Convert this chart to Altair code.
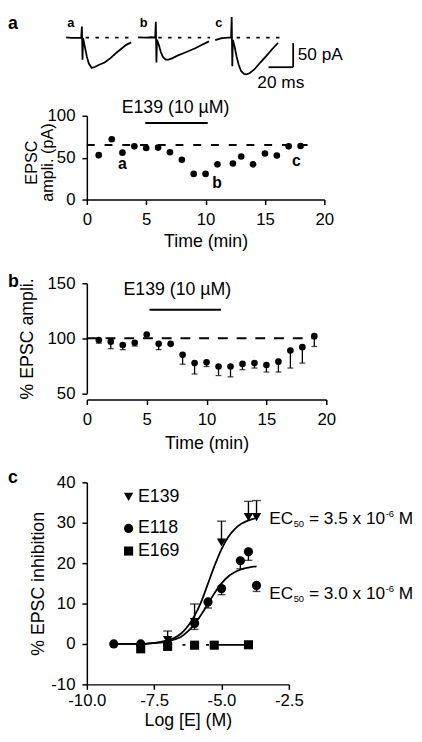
import altair as alt
import pandas as pd

FONT = "Liberation Sans"
INK = "#000000"

# ================= DATA =================
# --- Panel a (top): example EPSC sweeps; ms after stimulus, pA relative to baseline ---
sweep_names = ["a", "b", "c"]
sweep_a_ms = [-12.8, -8.8, -4.0, -0.56, 0, 0.48, 0.96, 2.4, 4.0, 5.6, 8.0, 10.4, 13.6, 18.4, 23.2, 28.0, 32.0, 36.0, 40.0]
sweep_a_pA = [0.4, -0.6, -0.6, 0, 23.0, -45.7, -0.6, -19.1, -39.5, -53.8, -63.0, -61.0, -56.9, -51.8, -42.6, -31.4, -23.2, -15.0, -9.8]
sweep_b_ms = [-14.4, -8.0, -3.2, -0.48, 0, 0.48, 0.96, 2.4, 4.0, 5.6, 8.0, 10.4, 13.6, 17.6, 22.4, 27.2, 32.0, 36.8, 43.2]
sweep_b_pA = [0.4, -0.2, 0.8, 0, 33.2, -51.8, -4.7, -15.0, -29.3, -39.5, -45.7, -45.7, -42.6, -37.5, -32.4, -27.3, -22.1, -16.0, -7.8]
sweep_c_ms = [-13.4, -8.0, -2.64, -0.48, 0, 0.48, 0.96, 2.4, 4.0, 5.6, 7.6, 10.0, 12.0, 14.4, 18.4, 23.2, 28.0, 32.8, 37.6]
sweep_c_pA = [-5.3, -1.2, 0, 0, 43.0, -59.4, -4.7, -19.1, -39.5, -55.9, -69.3, -75.5, -76.5, -74.0, -66.2, -51.8, -38.5, -24.2, -10.9]
sweep_baseline_start_ms = [3, 2, 4]
sweep_baseline_end_ms = [40, 44, 43]
scalebar_ms = 20
scalebar_pA = 50

# --- Panel a (bottom): EPSC amplitude time course ---
time_a_min = [1, 2.1, 3, 4, 5, 6, 7, 8, 9, 10, 11, 12.3, 13, 14, 15, 16, 17, 18]
epsc_a_pA = [53, 72, 56, 63.5, 61.5, 62, 56.5, 47.5, 30.6, 30.6, 42, 43, 51.4, 42, 55, 52.5, 63.5, 64]
baseline_a_pA = 65
baseline_a_span = [0, 18.7]
drug_a_span = [4.92, 10.18]
drug_label = "E139 (10 µM)"
sample_labels = ["a", "b", "c"]
sample_label_min = [3.0, 10.97, 17.65]
sample_label_pA = [37, 14, 40.4]

# --- Panel b: normalised EPSC amplitude (mean, one-sided SEM) ---
time_b_min = list(range(1, 20))
pct_b = [98.5, 97, 94, 96, 103.5, 95, 95, 85, 77.5, 78.2, 74.4, 74.4, 76.8, 77.5, 75.8, 78.8, 89, 92, 102]
sem_b = [2.9, 6.4, 4.3, 3.0, 0, 5.3, 1.0, 8.5, 9.9, 3.8, 8.2, 9.4, 5.3, 4.5, 6.4, 9.4, 16.0, 14.5, 9.4]
baseline_b_pct = 100
baseline_b_span = [0, 19.2]
drug_b_span = [5.23, 11.2]

# --- Panel c: concentration-response ---
series_names = ["E139", "E118", "E169"]
log_e139 = [-7, -6, -5, -4, -3.7]
inh_e139 = [1.0, 5.4, 25.1, 31.4, 31.4]
sem_e139 = [2.2, 4.5, 5.3, 3.9, 4.1]
log_e118 = [-9, -8, -7, -6, -5.5, -5, -4.3, -4, -3.7]
inh_e118 = [0, 0, 0, 5.1, 10.4, 13.7, 20.6, 22.8, 14.5]
sem_e118 = [0, 0, 0, 1.5, 1.5, 1.5, 2.0, 2.1, 1.5]
log_e169 = [-8, -7, -6, -5.27, -4]
inh_e169 = [-1.2, -0.6, -0.3, -0.3, -0.2]
fit_log = [-9, -8, -7.5, -7, -6.75, -6.5, -6.25, -6, -5.75, -5.5, -5.25, -5, -4.75, -4.5, -4.25, -4, -3.7]
fit_e139 = [0, 0, 0.3, 0.9, 1.5, 2.6, 4.4, 7.0, 10.5, 15.0, 19.5, 23.5, 26.5, 28.5, 29.8, 30.6, 31.2]
fit_e118 = [0, 0, 0.2, 0.6, 1.1, 1.8, 3.1, 4.9, 7.3, 10.0, 12.7, 15.0, 16.7, 17.8, 18.5, 18.9, 19.2]
fit_e169_dashed = [[-6.45, -5.27], [-0.2, -0.2]]
fit_e169_solid = [[-5.27, -4.0], [-0.2, -0.2]]
ec50_values = ["3.5", "3.0"]

# ================= LAYOUT (positions / sizes) =================
sweep_onset = [-4.0, 56.0, 117.6]          # where each sweep sits on the trace strip (ms)
sweep_label_pos = [-15.8, 43.0, 104.2]
sweep_label_pA = 22.5
scalebar_corner = (167.5, -61.5)
ec50_anchor = [(-3.23, 29.8), (-3.23, 11.2)]
legend_sym_x, legend_txt_x = -8.45, -8.1
legend_y = [36.4, 28.6, 23.0]
LETTER_X = -80

def txt(df, size=17.5, weight="normal", align="left", baseline="alphabetic", dx=0, dy=0):
    return alt.Chart(df).mark_text(font=FONT, fontSize=size, fontWeight=weight, color=INK,
                                   align=align, baseline=baseline, dx=dx, dy=dy)

def letter(ch, y):
    return txt(pd.DataFrame({"s": [ch]}), size=18, weight="bold").encode(
        x=alt.value(LETTER_X), y=alt.value(y), text="s:N")

# ---------------- trace strip ----------------
rows = []
for name, onset, ts, ys in zip(sweep_names, sweep_onset,
                               [sweep_a_ms, sweep_b_ms, sweep_c_ms],
                               [sweep_a_pA, sweep_b_pA, sweep_c_pA]):
    for k, (t, v) in enumerate(zip(ts, ys)):
        rows.append({"sweep": name, "k": k, "T": onset + t, "I": v})
sweeps = pd.DataFrame(rows)
base_rows = pd.DataFrame({"T": [o + s for o, s in zip(sweep_onset, sweep_baseline_start_ms)],
                          "T2": [o + e for o, e in zip(sweep_onset, sweep_baseline_end_ms)],
                          "I": [0, 0, 0]})
cx, cy = scalebar_corner
sb = pd.DataFrame({"T": [cx - scalebar_ms, cx], "T2": [cx, cx],
                   "I": [cy, cy], "I2": [cy, cy + scalebar_pA]})
xs_tr = alt.Scale(domain=[0, 192], nice=False, zero=False)
ys_tr = alt.Scale(domain=[-113.3, 46.5], nice=False, zero=False)
XT = alt.X("T:Q", scale=xs_tr, axis=None)
YT = alt.Y("I:Q", scale=ys_tr, axis=None)

trace_panel = alt.layer(
    alt.Chart(base_rows).mark_rule(color=INK, strokeWidth=1.6, strokeDash=[3.5, 6.5]).encode(x=XT, x2="T2:Q", y=YT),
    alt.Chart(sweeps).mark_line(color=INK, strokeWidth=1.8).encode(x=XT, y=YT, detail="sweep:N", order="k:Q"),
    alt.Chart(sb).mark_rule(color=INK, strokeWidth=1.8).encode(x=XT, x2="T2:Q", y=YT, y2="I2:Q"),
    txt(pd.DataFrame({"T": [cx + 3.7], "I": [cy + 14], "s": [f"{scalebar_pA} pA"]})).encode(x=XT, y=YT, text="s:N"),
    txt(pd.DataFrame({"T": [cx - scalebar_ms / 2], "I": [-105], "s": [f"{scalebar_ms} ms"]}), align="center").encode(x=XT, y=YT, text="s:N"),
    txt(pd.DataFrame({"T": sweep_label_pos, "I": [sweep_label_pA] * 3, "s": sweep_names}), size=13, weight="bold").encode(x=XT, y=YT, text="s:N"),
    letter("a", 13.5),
).properties(width=240, height=78)

# ---------------- panel a time course ----------------
xa = alt.Scale(domain=[0, 20], nice=False, zero=False)
ya = alt.Scale(domain=[0, 100], range=[109, 24], nice=False, zero=False)
XA = alt.X("t:Q", scale=xa, axis=alt.Axis(values=[0, 5, 10, 15, 20], title="Time (min)", titleY=34))
YA = alt.Y("v:Q", scale=ya, axis=alt.Axis(values=[0, 50, 100], title=["EPSC", "ampli. (pA)"],
                                          titleX=-48, titleY=71, titleLineHeight=16, titleFontSize=16.5))
panel_a = alt.layer(
    alt.Chart(pd.DataFrame({"t": [baseline_a_span[0]], "t2": [baseline_a_span[1]], "v": [baseline_a_pA]}))
        .mark_rule(color=INK, strokeWidth=2, strokeDash=[8, 10]).encode(x=XA, x2="t2:Q", y=YA),
    alt.Chart(pd.DataFrame({"t": [drug_a_span[0]], "t2": [drug_a_span[1]], "v": [91.4]}))
        .mark_rule(color=INK, strokeWidth=2).encode(x=XA, x2="t2:Q", y=YA),
    alt.Chart(pd.DataFrame({"t": time_a_min, "v": epsc_a_pA}))
        .mark_circle(color=INK, size=45, opacity=1).encode(x=XA, y=YA),
    txt(pd.DataFrame({"t": sample_label_min, "v": sample_label_pA, "s": sample_labels}), size=16, weight="bold",
        align="center").encode(x=XA, y=YA, text="s:N"),
    txt(pd.DataFrame({"t": [7.47], "v": [103.5], "s": [drug_label]}), size=18, align="center").encode(x=XA, y=YA, text="s:N"),
).properties(width=241, height=109)

# ---------------- panel b ----------------
xb = alt.Scale(domain=[0, 20], nice=False, zero=False)
yb = alt.Scale(domain=[50, 150], range=[196.7, 85], nice=False, zero=False)
XB = alt.X("t:Q", scale=xb, axis=alt.Axis(values=[0, 5, 10, 15, 20], title="Time (min)", titleY=36))
YB = alt.Y("v:Q", scale=yb, axis=alt.Axis(values=[50, 100, 150], title="% EPSC ampli.", titleX=-51))
dfb = pd.DataFrame({"t": time_b_min, "v": pct_b, "lo": [p - s for p, s in zip(pct_b, sem_b)], "s": sem_b})
dfb_err = dfb[dfb["s"] > 0]
panel_b = alt.layer(
    alt.Chart(pd.DataFrame({"t": [baseline_b_span[0]], "t2": [baseline_b_span[1]], "v": [baseline_b_pct]}))
        .mark_rule(color=INK, strokeWidth=2, strokeDash=[10, 9]).encode(x=XB, x2="t2:Q", y=YB),
    alt.Chart(pd.DataFrame({"t": [drug_b_span[0]], "t2": [drug_b_span[1]], "v": [126]}))
        .mark_rule(color=INK, strokeWidth=2).encode(x=XB, x2="t2:Q", y=YB),
    alt.Chart(dfb_err).mark_rule(color=INK, strokeWidth=1.3).encode(x=XB, y=YB, y2="lo:Q"),
    alt.Chart(dfb_err.assign(v=dfb_err["lo"])).mark_tick(color=INK, orient="horizontal", size=6, thickness=1.3).encode(x=XB, y=YB),
    alt.Chart(dfb).mark_circle(color=INK, size=45, opacity=1).encode(x=XB, y=YB),
    txt(pd.DataFrame({"t": [7.56], "v": [139], "s": [drug_label]}), size=18, align="center").encode(x=XB, y=YB, text="s:N"),
    letter("b", 89),
).properties(width=243, height=203)

# ---------------- panel c ----------------
xc = alt.Scale(domain=[-10, -2.5], nice=False, zero=False)
yc = alt.Scale(domain=[-10, 40], range=[289, 84], nice=False, zero=False)
XC = alt.X("x:Q", scale=xc, axis=alt.Axis(values=[-10, -7.5, -5, -2.5], title="Log [E] (M)", titleY=28, labelPadding=3,
                                          labelExpr="replace(format(datum.value, '.1f'), '\u2212', '-')"))
YC = alt.Y("y:Q", scale=yc, axis=alt.Axis(values=[-10, 0, 10, 20, 30, 40], title="% EPSC inhibition", titleX=-40,
                                          labelExpr="replace(format(datum.value, 'd'), '\u2212', '-')"))
shape_scale = alt.Scale(domain=series_names, range=["triangle-down", "circle", "square"])
size_scale = alt.Scale(domain=series_names, range=[90, 85, 75])
pts = pd.concat([
    pd.DataFrame({"x": log_e139, "y": inh_e139, "g": "E139"}),
    pd.DataFrame({"x": log_e118, "y": inh_e118, "g": "E118"}),
    pd.DataFrame({"x": log_e169, "y": inh_e169, "g": "E169"}),
])
err139 = pd.DataFrame({"x": log_e139, "y": inh_e139, "y2": [a + b for a, b in zip(inh_e139, sem_e139)]})
err118 = pd.DataFrame({"x": log_e118, "y": inh_e118, "y2": [a - b for a, b in zip(inh_e118, sem_e118)], "s": sem_e118})
err118 = err118[err118["s"] > 0]
fits = pd.concat([
    pd.DataFrame({"x": fit_log, "y": fit_e139, "g": "E139"}),
    pd.DataFrame({"x": fit_log, "y": fit_e118, "g": "E118"}),
])
leg_sym = pd.DataFrame({"x": [legend_sym_x] * 3, "y": legend_y, "g": series_names})
leg_txt = pd.DataFrame({"x": [legend_txt_x] * 3, "y": legend_y, "g": series_names})
ec = pd.DataFrame({"x": [a[0] for a in ec50_anchor], "y": [a[1] for a in ec50_anchor],
                   "p1": ["EC", "EC"], "p2": ["50", "50"], "p3": [f"= {v} x 10" for v in ec50_values],
                   "p4": ["-6", "-6"], "p5": ["M", "M"]})
shape_enc = alt.Shape("g:N", scale=shape_scale, legend=None)
size_enc = alt.Size("g:N", scale=size_scale, legend=None)
panel_c = alt.layer(
    alt.Chart(fits).mark_line(color=INK, strokeWidth=1.8, interpolate="monotone").encode(x=XC, y=YC, detail="g:N"),
    alt.Chart(pd.DataFrame({"x": fit_e169_dashed[0], "y": fit_e169_dashed[1]}))
        .mark_line(color=INK, strokeWidth=1.8, strokeDash=[3, 9]).encode(x=XC, y=YC),
    alt.Chart(pd.DataFrame({"x": fit_e169_solid[0], "y": fit_e169_solid[1]}))
        .mark_line(color=INK, strokeWidth=1.8).encode(x=XC, y=YC),
    alt.Chart(err139).mark_rule(color=INK, strokeWidth=1.4).encode(x=XC, y=YC, y2="y2:Q"),
    alt.Chart(err139.assign(y=err139["y2"])).mark_tick(color=INK, orient="horizontal", size=9, thickness=1.4).encode(x=XC, y=YC),
    alt.Chart(err118).mark_rule(color=INK, strokeWidth=1.4).encode(x=XC, y=YC, y2="y2:Q"),
    alt.Chart(err118.assign(y=err118["y2"])).mark_tick(color=INK, orient="horizontal", size=8, thickness=1.4).encode(x=XC, y=YC),
    alt.Chart(pts).mark_point(filled=True, color=INK, opacity=1).encode(x=XC, y=YC, shape=shape_enc, size=size_enc),
    alt.Chart(leg_sym).mark_point(filled=True, color=INK, opacity=1).encode(x=XC, y=YC, shape=shape_enc, size=size_enc),
    txt(leg_txt, size=18, baseline="middle").encode(x=XC, y=YC, text="g:N"),
    txt(ec).encode(x=XC, y=YC, text="p1:N"),
    txt(ec, size=9.5, dx=24.8, dy=3.5).encode(x=XC, y=YC, text="p2:N"),
    txt(ec, dx=40.3).encode(x=XC, y=YC, text="p3:N"),
    txt(ec, size=9.5, dx=118.2, dy=-7).encode(x=XC, y=YC, text="p4:N"),
    txt(ec, dx=131.5).encode(x=XC, y=YC, text="p5:N"),
    letter("c", 85),
).properties(width=205, height=289)

chart = alt.vconcat(trace_panel, panel_a, panel_b, panel_c, spacing=0, bounds="flush").properties(
    padding=0, background="white"
).configure_view(stroke=None).configure_axis(
    domainColor=INK, tickColor=INK, labelColor=INK, titleColor=INK,
    labelFont=FONT, titleFont=FONT, labelFontSize=17, titleFontSize=18, titleFontWeight="normal",
    grid=False, tickSize=5, domainWidth=1.5, tickWidth=1.5, labelPadding=7,
    labelFlush=False, labelOverlap=False,
)

chart.save("out.html", embed_options={"renderer": "svg", "actions": False})
